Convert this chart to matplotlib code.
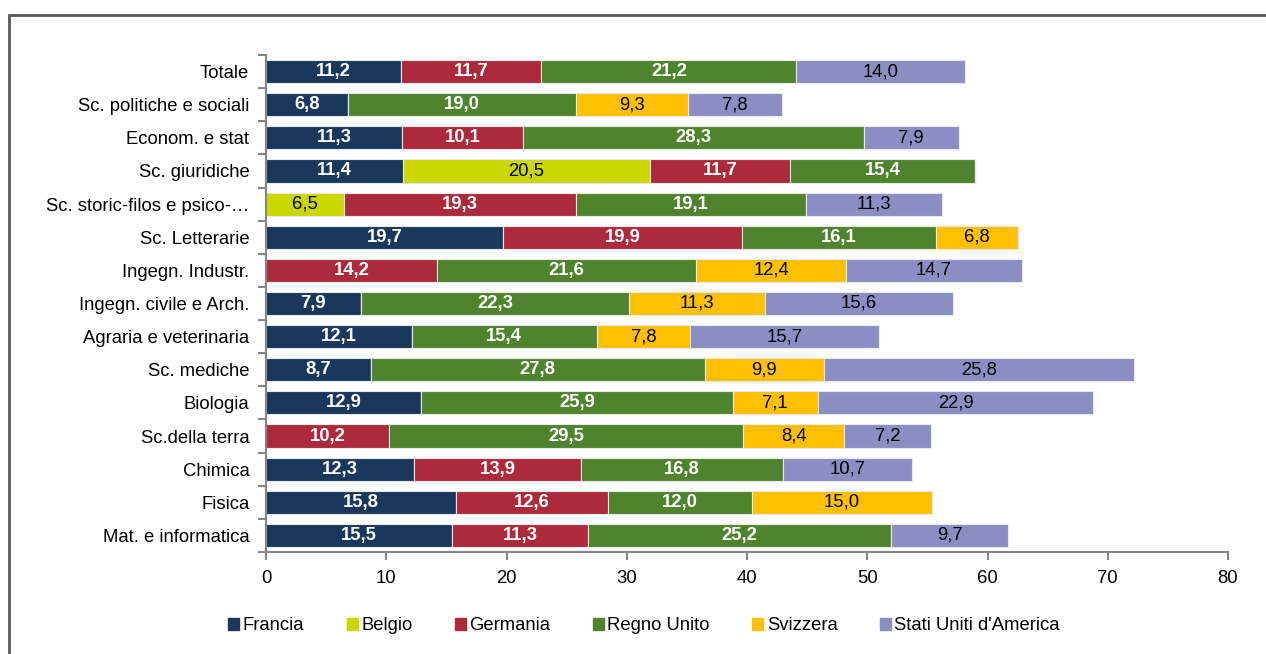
import matplotlib
matplotlib.use("Agg")
import matplotlib.pyplot as plt
import matplotlib.patches as mpatches
import numpy as np

plt.rcParams['font.family'] = ['Liberation Sans', 'DejaVu Sans']

categories = ["Totale", "Sc. politiche e sociali", "Econom. e stat", "Sc. giuridiche",
              "Sc. storic-filos e psico-…", "Sc. Letterarie", "Ingegn. Industr.",
              "Ingegn. civile e Arch.", "Agraria e veterinaria", "Sc. mediche", "Biologia",
              "Sc.della terra", "Chimica", "Fisica", "Mat. e informatica"]

series_names = ["Francia", "Belgio", "Germania", "Regno Unito", "Svizzera", "Stati Uniti d'America"]

francia  = [11.2, 6.8, 11.3, 11.4, 0, 19.7, 0, 7.9, 12.1, 8.7, 12.9, 0, 12.3, 15.8, 15.5]
belgio   = [0, 0, 0, 20.5, 6.5, 0, 0, 0, 0, 0, 0, 0, 0, 0, 0]
germania = [11.7, 0, 10.1, 11.7, 19.3, 19.9, 14.2, 0, 0, 0, 0, 10.2, 13.9, 12.6, 11.3]
regno_unito = [21.2, 19.0, 28.3, 15.4, 19.1, 16.1, 21.6, 22.3, 15.4, 27.8, 25.9, 29.5, 16.8, 12.0, 25.2]
svizzera = [0, 9.3, 0, 0, 0, 6.8, 12.4, 11.3, 7.8, 9.9, 7.1, 8.4, 0, 15.0, 0]
usa      = [14.0, 7.8, 7.9, 0, 11.3, 0, 14.7, 15.6, 15.7, 25.8, 22.9, 7.2, 10.7, 0, 9.7]

xticks = [0, 10, 20, 30, 40, 50, 60, 70, 80]

data = [francia, belgio, germania, regno_unito, svizzera, usa]
colors = ["#1A375C", "#CCD600", "#AC2A3C", "#50832D", "#FFC000", "#8A8EC2"]
label_colors = ["white", "black", "white", "white", "black", "black"]
label_weights = ["bold", "normal", "bold", "bold", "normal", "normal"]

fig = plt.figure(figsize=(12.66, 6.54), dpi=100)
ax = fig.add_axes([266/1266, 1-552/654, (1228-266)/1266, (552-55)/654])

n = len(categories)
y = np.arange(n)[::-1]
left = np.zeros(n)
fs = 13.3
for vals, c, lc, lw, name in zip(data, colors, label_colors, label_weights, series_names):
    vals = np.array(vals, dtype=float)
    ax.barh(y, vals, left=left, height=0.7, color=c, edgecolor="#E8E8E8",
            linewidth=0.8, label=name)
    for yi, l, v in zip(y, left, vals):
        if v > 0:
            ax.text(l + v/2, yi, f"{v:.1f}".replace('.', ','), ha='center', va='center',
                    color=lc, fontweight=lw, fontsize=fs)
    left += vals

ax.set_xlim(0, 80)
ax.set_ylim(-0.5, n - 0.5)
ax.set_xticks(xticks)
ax.set_xticklabels([str(t) for t in xticks], fontsize=fs)
ax.set_yticks(y)
ax.set_yticklabels(categories, fontsize=fs)
ax.set_yticks(np.arange(n + 1) - 0.5, minor=True)
ax.tick_params(axis='y', which='major', length=0, pad=12)
ax.tick_params(axis='y', which='minor', length=6, color='#868686', width=1.5)
ax.tick_params(axis='x', which='major', length=6, color='#868686', width=1.5, pad=7)
for s in ['top', 'right']:
    ax.spines[s].set_visible(False)
for s in ['left', 'bottom']:
    ax.spines[s].set_color('#868686')
    ax.spines[s].set_linewidth(1.5)

handles = [mpatches.Patch(color=c, label=nme) for c, nme in zip(colors, series_names)]
fig.legend(handles=handles, loc='center', bbox_to_anchor=(644/1266, 1-626/654), ncol=6,
           frameon=False, fontsize=fs, handlelength=0.6, handleheight=0.6,
           handletextpad=0.2, columnspacing=2.28)

border = mpatches.Rectangle((9/1266, -0.05), 1.1, 1-15/654 + 0.05, transform=fig.transFigure,
                            fill=False, edgecolor='#595959', linewidth=2, clip_on=False)
fig.patches.append(border)

fig.savefig("out.png", dpi=100)
